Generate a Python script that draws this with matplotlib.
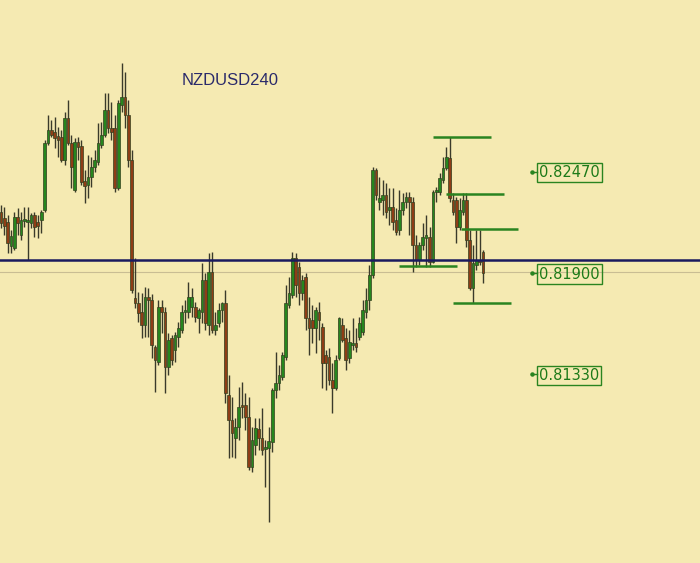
import matplotlib
matplotlib.use("Agg")
import matplotlib.pyplot as plt

# 4h candles, NZDUSD
opens = [0.82243, 0.82209, 0.82186, 0.82051, 0.82040, 0.82214, 0.82113, 0.82192, 0.82186, 0.82181,
         0.82226, 0.82186, 0.82198, 0.82254, 0.82630, 0.82703, 0.82692, 0.82670, 0.82664, 0.82535,
         0.82771, 0.82630, 0.82366, 0.82636, 0.82613, 0.82417, 0.82394, 0.82439, 0.82495, 0.82524,
         0.82619, 0.82675, 0.82816, 0.82715, 0.82715, 0.82377, 0.82844, 0.82889, 0.82788, 0.82535,
         0.81759, 0.81731, 0.81681, 0.81608, 0.81765, 0.81748, 0.81484, 0.81400, 0.81709, 0.81681,
         0.81372, 0.81534, 0.81467, 0.81540, 0.81579, 0.81681, 0.81681, 0.81709, 0.81709, 0.81647,
         0.81681, 0.81860, 0.81608, 0.81905, 0.81579, 0.81619, 0.81692, 0.81731, 0.81214, 0.81074,
         0.80972, 0.81034, 0.81158, 0.81158, 0.81091, 0.80810, 0.80933, 0.81023, 0.80972, 0.80911,
         0.80916, 0.80950, 0.81242, 0.81281, 0.81315, 0.81428, 0.81720, 0.81776, 0.81984, 0.81934,
         0.81787, 0.81877, 0.81647, 0.81636, 0.81591, 0.81681, 0.81596, 0.81439, 0.81428, 0.81298,
         0.81253, 0.81422, 0.81608, 0.81534, 0.81422, 0.81495, 0.81506, 0.81540, 0.81568, 0.81681,
         0.81748, 0.81889, 0.82479, 0.82299, 0.82310, 0.82338, 0.82254, 0.82271, 0.82198, 0.82141,
         0.82254, 0.82299, 0.82327, 0.82299, 0.82057, 0.81973, 0.82057, 0.82096, 0.82102, 0.81962,
         0.82355, 0.82355, 0.82422, 0.82490, 0.82546, 0.82310, 0.82310, 0.82158, 0.82243, 0.82310,
         0.82085, 0.81815, 0.81945, 0.81973, 0.82018]
highs = [0.82282, 0.82271, 0.82226, 0.82141, 0.82243, 0.82265, 0.82243, 0.82271, 0.82271, 0.82237,
         0.82243, 0.82226, 0.82254, 0.82647, 0.82788, 0.82760, 0.82777, 0.82720, 0.82703, 0.82805,
         0.82872, 0.82675, 0.82658, 0.82664, 0.82647, 0.82479, 0.82563, 0.82552, 0.82591, 0.82743,
         0.82748, 0.82911, 0.82911, 0.82861, 0.82788, 0.82872, 0.83080, 0.83029, 0.82872, 0.82591,
         0.81984, 0.81793, 0.81787, 0.81821, 0.81815, 0.81782, 0.81495, 0.81748, 0.81748, 0.81709,
         0.81563, 0.81551, 0.81568, 0.81624, 0.81720, 0.81748, 0.81849, 0.81815, 0.81737, 0.81703,
         0.81956, 0.81900, 0.82012, 0.82018, 0.81681, 0.81731, 0.81737, 0.81804, 0.81327, 0.81203,
         0.81085, 0.81259, 0.81287, 0.81225, 0.81203, 0.81034, 0.81085, 0.81085, 0.81141, 0.80961,
         0.81034, 0.81253, 0.81456, 0.81383, 0.81456, 0.81832, 0.81877, 0.82018, 0.82012, 0.81962,
         0.81889, 0.81900, 0.81765, 0.81720, 0.81709, 0.81737, 0.81619, 0.81467, 0.81478, 0.81394,
         0.81439, 0.81653, 0.81647, 0.81591, 0.81579, 0.81647, 0.81591, 0.81653, 0.81748, 0.81815,
         0.81945, 0.82495, 0.82490, 0.82439, 0.82422, 0.82406, 0.82377, 0.82377, 0.82265, 0.82366,
         0.82349, 0.82355, 0.82355, 0.82327, 0.82113, 0.82074, 0.82181, 0.82226, 0.82158, 0.82366,
         0.82383, 0.82462, 0.82552, 0.82608, 0.82664, 0.82349, 0.82327, 0.82321, 0.82349, 0.82349,
         0.82141, 0.82057, 0.82141, 0.82141, 0.82029]
lows = [0.82153, 0.82113, 0.82012, 0.82012, 0.82029, 0.82113, 0.82085, 0.82158, 0.81973, 0.82153,
        0.82102, 0.82096, 0.82125, 0.82243, 0.82619, 0.82664, 0.82602, 0.82552, 0.82524, 0.82507,
        0.82619, 0.82377, 0.82355, 0.82535, 0.82394, 0.82293, 0.82321, 0.82383, 0.82467, 0.82507,
        0.82602, 0.82664, 0.82687, 0.82647, 0.82355, 0.82366, 0.82805, 0.82715, 0.82495, 0.81787,
        0.81703, 0.81624, 0.81534, 0.81540, 0.81540, 0.81422, 0.81231, 0.81383, 0.81563, 0.81225,
        0.81327, 0.81383, 0.81400, 0.81484, 0.81563, 0.81619, 0.81647, 0.81653, 0.81624, 0.81563,
        0.81619, 0.81579, 0.81551, 0.81563, 0.81551, 0.81596, 0.81624, 0.81169, 0.80860, 0.80866,
        0.80860, 0.80961, 0.81085, 0.81017, 0.80793, 0.80781, 0.80877, 0.80905, 0.80877, 0.80697,
        0.80500, 0.80894, 0.81197, 0.81242, 0.81298, 0.81411, 0.81703, 0.81759, 0.81765, 0.81720,
        0.81748, 0.81579, 0.81439, 0.81506, 0.81450, 0.81523, 0.81253, 0.81242, 0.81270, 0.81113,
        0.81242, 0.81411, 0.81512, 0.81355, 0.81394, 0.81467, 0.81456, 0.81523, 0.81551, 0.81647,
        0.81692, 0.81872, 0.82310, 0.82254, 0.82226, 0.82209, 0.82170, 0.82141, 0.82113, 0.82113,
        0.82226, 0.82265, 0.82113, 0.81905, 0.81934, 0.81945, 0.82029, 0.81934, 0.81934, 0.81956,
        0.82299, 0.82338, 0.82406, 0.82479, 0.82299, 0.82226, 0.82068, 0.82141, 0.82226, 0.82046,
        0.81804, 0.81731, 0.81917, 0.81945, 0.81844]
closes = [0.82181, 0.82164, 0.82068, 0.82108, 0.82214, 0.82181, 0.82198, 0.82203, 0.82198, 0.82226,
          0.82158, 0.82164, 0.82243, 0.82630, 0.82703, 0.82675, 0.82658, 0.82647, 0.82535, 0.82771,
          0.82630, 0.82495, 0.82636, 0.82608, 0.82411, 0.82389, 0.82439, 0.82495, 0.82535, 0.82630,
          0.82675, 0.82816, 0.82715, 0.82692, 0.82377, 0.82855, 0.82889, 0.82788, 0.82535, 0.81804,
          0.81731, 0.81675, 0.81608, 0.81765, 0.81748, 0.81495, 0.81411, 0.81709, 0.81681, 0.81372,
          0.81523, 0.81411, 0.81551, 0.81591, 0.81681, 0.81692, 0.81765, 0.81765, 0.81653, 0.81692,
          0.81860, 0.81619, 0.81905, 0.81579, 0.81608, 0.81692, 0.81731, 0.81225, 0.81074, 0.81001,
          0.81034, 0.81147, 0.81147, 0.81091, 0.80810, 0.80961, 0.81029, 0.80972, 0.80905, 0.80922,
          0.80956, 0.81242, 0.81281, 0.81327, 0.81439, 0.81731, 0.81787, 0.81984, 0.81832, 0.81787,
          0.81860, 0.81647, 0.81591, 0.81591, 0.81692, 0.81636, 0.81394, 0.81394, 0.81298, 0.81253,
          0.81411, 0.81647, 0.81523, 0.81411, 0.81512, 0.81506, 0.81484, 0.81619, 0.81692, 0.81748,
          0.81889, 0.82479, 0.82338, 0.82321, 0.82338, 0.82243, 0.82271, 0.82186, 0.82130, 0.82254,
          0.82299, 0.82327, 0.82299, 0.82057, 0.81973, 0.82057, 0.82102, 0.82113, 0.81962, 0.82355,
          0.82366, 0.82434, 0.82490, 0.82552, 0.82321, 0.82243, 0.82158, 0.82254, 0.82310, 0.82085,
          0.81815, 0.81956, 0.81973, 0.81962, 0.81900]

# swing levels drawn as short green segments: price, start bar, end bar
seg_prices = [0.82664, 0.82344, 0.82147, 0.81939, 0.81731]
seg_start = [129.1, 133.0, 137.4, 118.9, 135.0]
seg_end = [146.4, 150.3, 154.5, 136.2, 152.4]

navy_level = 0.81973
grey_level = 0.81905
label_prices = [0.82470, 0.81900, 0.81330]
label_texts = ["0.82470", "0.81900", "0.81330"]
symbol = "NZDUSD240"

bg = "#f5eab2"
up_col = "#26861e"
down_col = "#8e3d16"
wick_col = "#3a3a2a"
lvl_green = "#2a8420"

fig = plt.figure(figsize=(7.0, 5.63), dpi=100)
fig.patch.set_facecolor(bg)
ax = fig.add_axes([0, 0, 1, 1])
ax.set_facecolor(bg)
for s in ax.spines.values():
    s.set_visible(False)
ax.set_xticks([])
ax.set_yticks([])

ax.axhline(grey_level, color="#c9bd93", lw=0.8, zorder=1)
ax.axhline(navy_level, color="#1a1a5e", lw=1.8, zorder=4)

idx = list(range(len(opens)))
ax.vlines(idx, lows, highs, color=wick_col, lw=1.0, zorder=2)
for i in idx:
    o, c = opens[i], closes[i]
    col = up_col if c >= o else down_col
    h = abs(c - o)
    if h < 0.00004:
        h = 0.00004
    ax.bar(i, h, bottom=min(o, c), width=0.8, color=col,
           edgecolor="#33401e", linewidth=0.5, zorder=3)

for p, a, b in zip(seg_prices, seg_start, seg_end):
    ax.hlines(p, a, b, color=lvl_green, lw=1.8, zorder=5)

lab_x = 160.7
for p, t in zip(label_prices, label_texts):
    ax.plot([158.2, 160.1], [p, p], color=lvl_green, lw=1.0, zorder=5)
    ax.plot([158.5], [p], marker="o", ms=2.2, color=lvl_green, zorder=5)
    ax.text(lab_x, p - 0.00006, t, fontsize=10.5, color="#1d7a18", ha="left", va="center",
            family="DejaVu Sans", zorder=6,
            bbox=dict(boxstyle="square,pad=0.14", fc="none", ec=lvl_green, lw=1.0))

ax.text(0.3286, 0.857, symbol, transform=ax.transAxes, fontsize=12,
        family="Liberation Sans", color="#2a2a6a", ha="center", va="center")

ax.set_xlim(-0.3, 208.8)
ax.set_ylim(0.80270, 0.83434)

plt.savefig("out.png", dpi=100, facecolor=bg)
